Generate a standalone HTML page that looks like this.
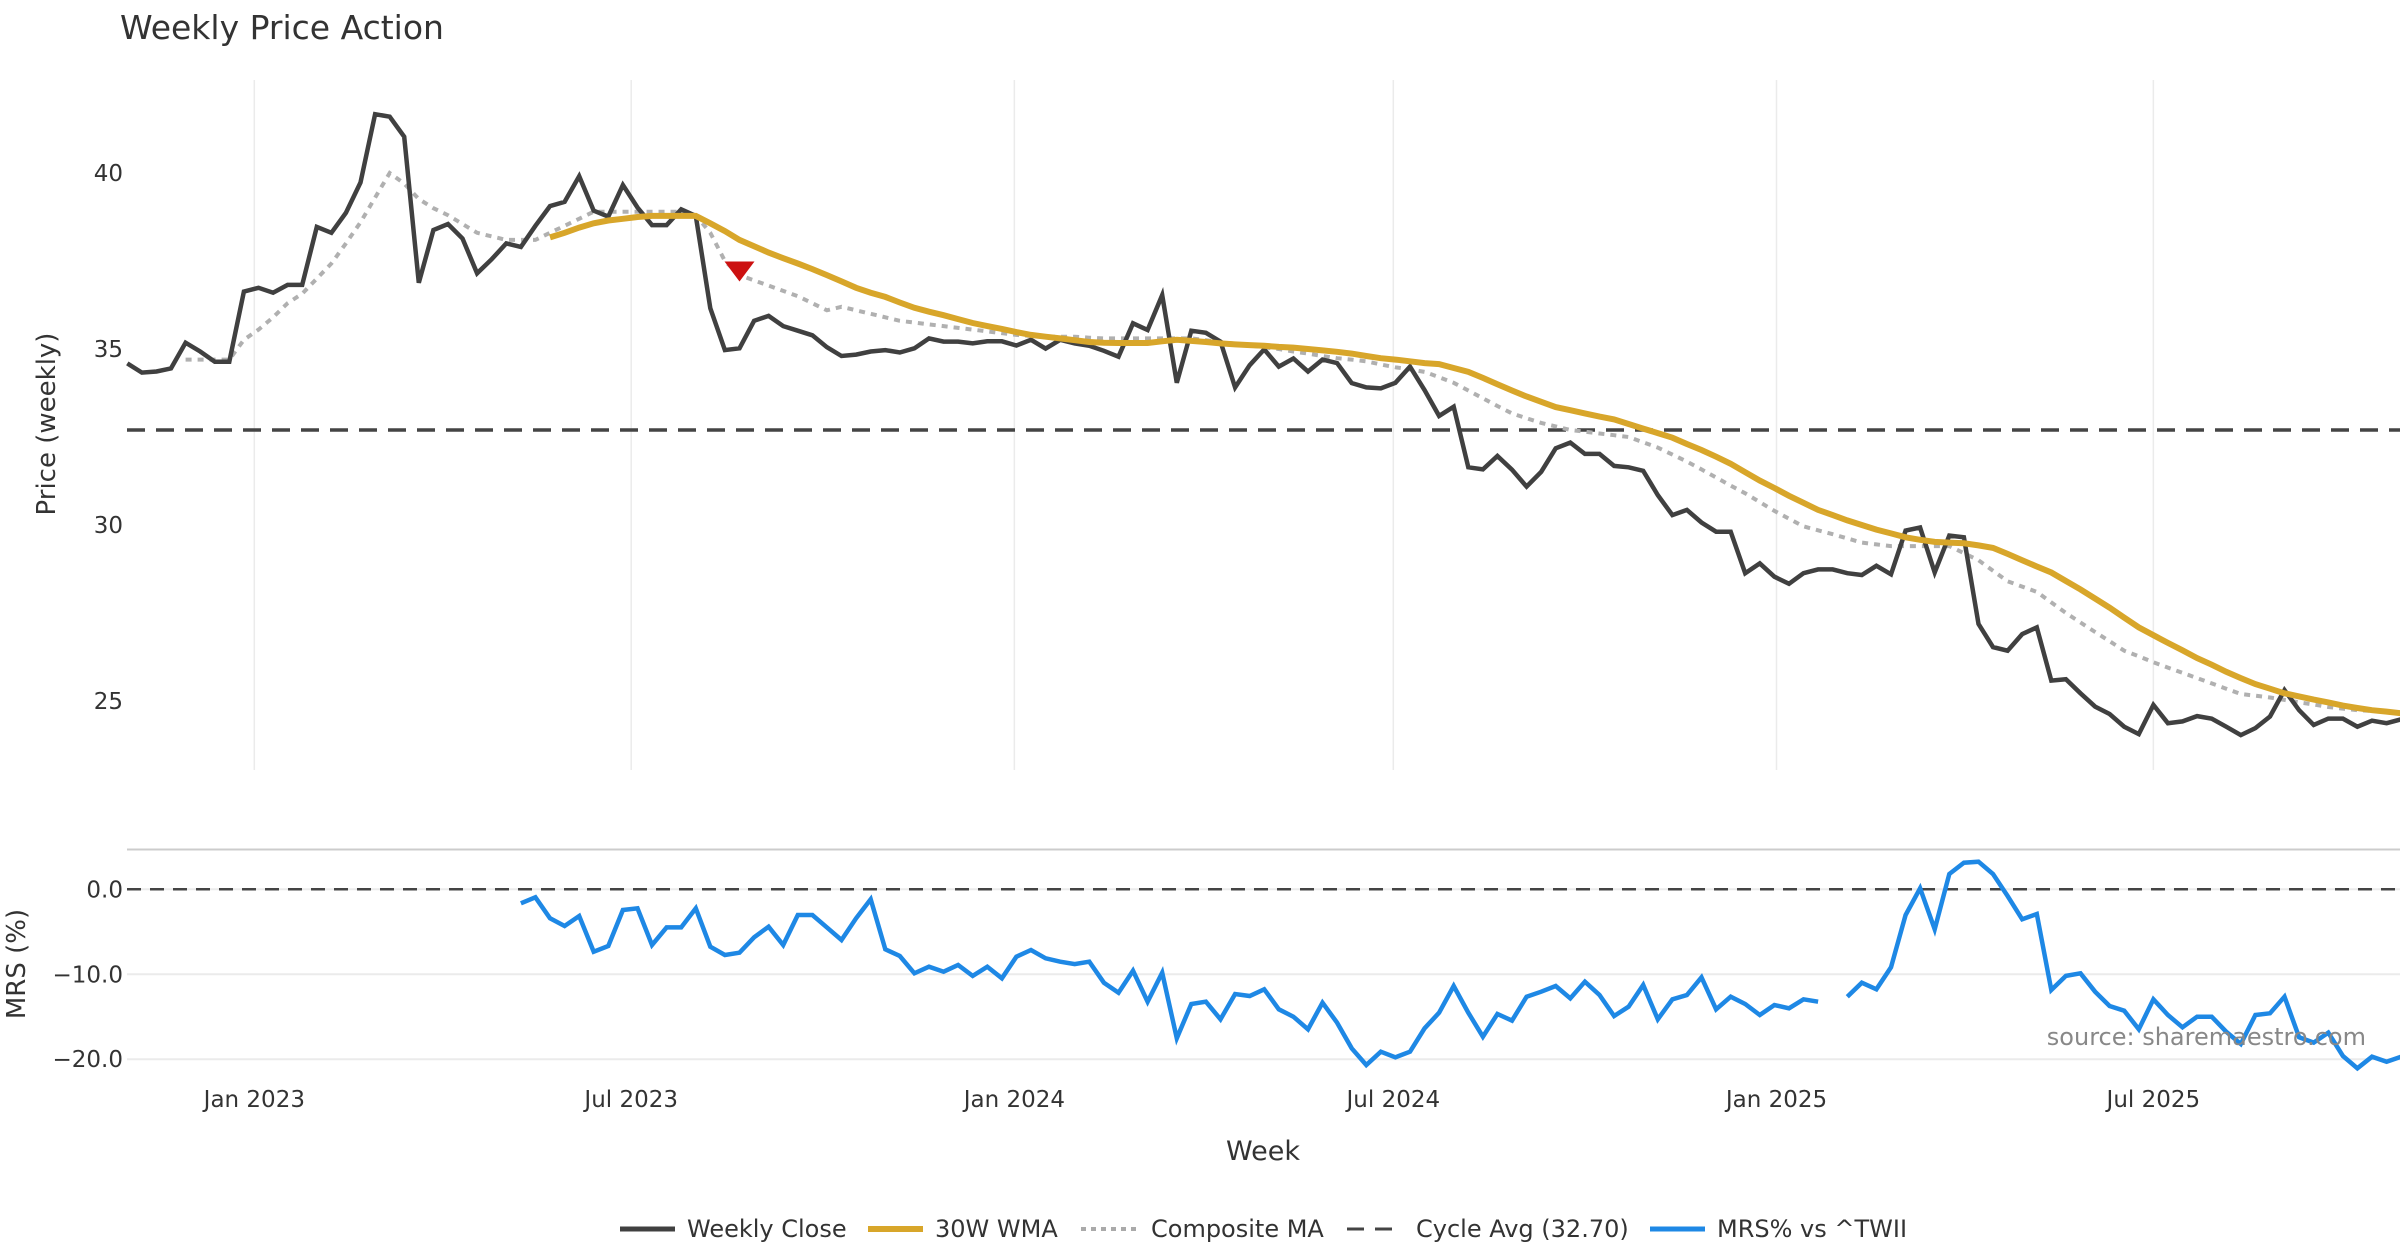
<!DOCTYPE html>
<html><head><meta charset="utf-8"><style>
html,body{margin:0;padding:0;background:#fff;}
svg{display:block;font-family:"DejaVu Sans","Liberation Sans",sans-serif;}
</style></head><body>
<svg id="chart" xmlns="http://www.w3.org/2000/svg" width="2400" height="1260" viewBox="0 0 2400 1260">
<rect x="0" y="0" width="2400" height="1260" fill="#fff"/>
<text x="120" y="39" font-size="33" fill="#333">Weekly Price Action</text>
<g id="grid"></g>
<g id="series"></g>
<g id="axes"></g>
<text transform="translate(55,424) rotate(-90)" text-anchor="middle" font-size="26" fill="#333">Price (weekly)</text>
<text transform="translate(25,964) rotate(-90)" text-anchor="middle" font-size="26" fill="#333">MRS (%)</text>
<text x="1263" y="1160" text-anchor="middle" font-size="27" fill="#333">Week</text>
<text x="2366" y="1045" text-anchor="end" font-size="24" fill="#888">source: sharemaestro.com</text>
<g font-size="24" fill="#333">
  <g><line x1="620" y1="1229" x2="675" y2="1229" stroke="#404040" stroke-width="5"/><text x="687" y="1237">Weekly Close</text></g>
  <g><line x1="868" y1="1229" x2="923" y2="1229" stroke="#d8a62a" stroke-width="6"/><text x="935" y="1237">30W WMA</text></g>
  <g><line x1="1081" y1="1229" x2="1136" y2="1229" stroke="#aaa" stroke-width="4" stroke-dasharray="5,5"/><text x="1151" y="1237">Composite MA</text></g>
  <g><line x1="1347" y1="1229" x2="1402" y2="1229" stroke="#444" stroke-width="3" stroke-dasharray="17,11"/><text x="1416" y="1237">Cycle Avg (32.70)</text></g>
  <g><line x1="1650" y1="1229" x2="1705" y2="1229" stroke="#1e88e5" stroke-width="5"/><text x="1717" y="1237">MRS% vs ^TWII</text></g>
</g>
</svg>
<script>
const startDate = "2022-11-01";
const tickDates = ["2023-01-01","2023-07-01","2024-01-01","2024-07-01","2025-01-01","2025-07-01"];
const tickLabels = ["Jan 2023","Jul 2023","Jan 2024","Jul 2024","Jan 2025","Jul 2025"];
const priceTicks = [25,30,35,40];
const mrsTicks = [0,-10,-20];
const cycleAvg = 32.70;
const signalWeek = 42;
const signalValue = 37.2;
const closeVals = [34.59,34.33,34.36,34.45,35.18,34.93,34.64,34.64,36.63,36.74,36.6,36.82,36.82,38.47,38.3,38.87,39.73,41.67,41.6,41.03,36.88,38.38,38.55,38.14,37.15,37.55,38.0,37.9,38.5,39.06,39.18,39.91,38.93,38.76,39.66,39.02,38.52,38.52,38.97,38.78,
36.16,34.97,35.02,35.8,35.94,35.65,35.52,35.39,35.05,34.8,34.84,34.93,34.97,34.9,35.02,35.3,35.21,35.21,35.16,35.22,35.22,35.1,35.26,35.01,35.26,35.16,35.09,34.95,34.78,35.73,35.54,36.53,34.04,35.52,35.46,35.21,33.91,34.54,34.99,34.5,
34.73,34.36,34.7,34.6,34.03,33.91,33.88,34.04,34.5,33.83,33.1,33.36,31.64,31.58,31.96,31.57,31.09,31.51,32.18,32.34,32.02,32.02,31.68,31.64,31.54,30.85,30.28,30.43,30.07,29.81,29.81,28.63,28.91,28.53,28.33,28.63,28.74,28.74,28.63,28.58,
28.84,28.6,29.84,29.93,28.65,29.7,29.65,27.19,26.53,26.43,26.9,27.09,25.58,25.62,25.22,24.84,24.63,24.27,24.06,24.89,24.37,24.42,24.57,24.5,24.27,24.03,24.23,24.56,25.31,24.74,24.32,24.5,24.5,24.27,24.44,24.37,24.48];
const wmaStart = 29;
const wmaVals = [38.17,38.3,38.45,38.57,38.65,38.7,38.75,38.78,38.78,38.78,38.78,38.57,38.35,38.1,37.92,37.74,37.58,37.43,37.27,37.1,36.92,36.74,36.6,36.48,36.32,36.17,36.06,35.96,35.85,35.74,35.65,35.57,35.48,35.4,35.35,35.3,35.25,35.2,35.18,35.17,35.17,35.17,35.22,35.26,35.23,35.2,35.16,35.13,35.11,35.09,35.06,35.04,35.0,34.96,34.92,34.87,34.8,34.74,34.7,34.65,34.6,34.57,34.46,34.35,34.18,34.0,33.82,33.65,33.5,33.35,33.26,33.17,33.08,33.0,32.87,32.74,32.61,32.48,32.3,32.13,31.94,31.74,31.5,31.26,31.05,30.83,30.63,30.43,30.28,30.13,30.0,29.87,29.76,29.65,29.58,29.52,29.5,29.48,29.42,29.35,29.18,29.0,28.82,28.65,28.41,28.17,27.91,27.65,27.37,27.09,26.87,26.65,26.44,26.22,26.03,25.83,25.65,25.48,25.35,25.22,25.13,25.04,24.96,24.87,24.8,24.74,24.7,24.65];
const compStart = 4;
const compVals = [34.7,34.7,34.7,34.7,35.26,35.55,35.9,36.3,36.57,37.0,37.43,38.0,38.6,39.3,40.0,39.7,39.26,39.0,38.8,38.55,38.3,38.2,38.1,38.1,38.1,38.3,38.5,38.7,38.9,38.9,38.9,38.9,38.9,38.9,38.9,38.8,38.3,37.5,37.1,36.95,36.8,36.65,36.5,36.3,36.1,36.2,36.1,36.0,35.9,35.8,35.75,35.7,35.65,35.6,35.55,35.5,35.45,35.4,35.37,35.35,35.35,35.35,35.32,35.3,35.3,35.3,35.3,35.3,35.3,35.3,35.25,35.2,35.15,35.1,35.05,35.0,34.93,34.87,34.8,34.74,34.7,34.65,34.56,34.48,34.42,34.35,34.2,34.04,33.82,33.6,33.38,33.17,33.03,32.9,32.8,32.7,32.65,32.6,32.55,32.5,32.35,32.2,32.0,31.8,31.58,31.35,31.12,30.9,30.65,30.4,30.18,29.96,29.85,29.74,29.62,29.5,29.45,29.4,29.4,29.4,29.4,29.4,29.2,29.0,28.7,28.4,28.25,28.1,27.8,27.5,27.23,26.96,26.7,26.43,26.27,26.1,25.95,25.8,25.65,25.5,25.35,25.2,25.15,25.1,25.03,24.96,24.9,24.83,24.78,24.74,24.72,24.7,24.68];
const mrsStart = 27;
const mrsVals = [-1.65,-0.94,-3.41,-4.32,-3.14,-7.34,-6.67,-2.44,-2.24,-6.56,-4.48,-4.48,-2.24,-6.76,-7.73,-7.46,-5.65,-4.4,-6.56,-3.03,-3.03,-4.48,-5.97,-3.41,-1.18,-7.06,-7.85,-9.89,-9.11,-9.7,-8.91,-10.2,-9.11,-10.48,-7.93,-7.15,-8.12,-8.52,-8.8,-8.52,-11.0,-12.17,-9.58,-13.23,-9.82,-17.54,-13.5,-13.23,-15.3,-12.33,-12.56,-11.77,-14.13,-15.0,-16.48,-13.35,-15.7,-18.72,-20.68,-19.12,-19.78,-19.12,-16.36,-14.53,
-11.38,-14.53,-17.35,-14.68,-15.46,-12.64,-12.05,-11.38,-12.83,-10.88,-12.44,-14.91,-13.82,-11.27,-15.3,-12.95,-12.44,-10.36,-14.13,-12.64,-13.5,-14.8,-13.62,-14.01,-12.95,-13.23,
null,
-12.64,-11.0,-11.77,-9.18,-3.03,0.12,-4.71,1.8,3.13,3.25,1.8,-0.79,-3.53,-2.91,-11.85,-10.2,-9.89,-12.05,-13.74,-14.29,-16.48,-12.95,-14.8,-16.25,-15.0,-15.0,-16.76,-18.21,-14.8,-14.6,-12.64,-17.42,-18.05,-16.88,-19.62,-21.07,-19.7,-20.29,-19.7];

const NS="http://www.w3.org/2000/svg";
const X0=127.3, WK=14.576;
function xIdx(i){return X0+i*WK;}
function weekOf(d){return (Date.parse(d)-Date.parse(startDate))/(7*86400000);}
function yP(v){return 173+(40-v)*35.2;}
function yM(v){return 889.3-v*8.495;}
function mk(tag,attrs,parent){const e=document.createElementNS(NS,tag);for(const k in attrs)e.setAttribute(k,attrs[k]);parent.appendChild(e);return e;}
const grid=document.getElementById('grid'),series=document.getElementById('series'),axes=document.getElementById('axes');
const PL=127,PR=2400;
tickDates.forEach((d,k)=>{
  const x=xIdx(weekOf(d));
  const gl=mk('line',{x1:x,x2:x,y1:80,y2:770,stroke:'#ebebeb','stroke-width':1.5},grid);
  
  
  const t=mk('text',{x:x,y:1107,'text-anchor':'middle','font-size':23,fill:'#333'},axes);
  t.textContent=tickLabels[k];
  
  
});
priceTicks.forEach(v=>{
  const t=mk('text',{x:123,y:yP(v)+8,'text-anchor':'end','font-size':23,fill:'#333'},axes);
  t.textContent=v;
  
  
});
mrsTicks.forEach(v=>{
  const gl=mk('line',{x1:PL,x2:PR,y1:yM(v),y2:yM(v),stroke:'#ebebeb','stroke-width':2},grid);
  
  
  const t=mk('text',{x:123,y:yM(v)+8,'text-anchor':'end','font-size':23,fill:'#333'},axes);
  t.textContent=v.toFixed(1).replace('-','\u2212');
  
  
});
const sep=mk('line',{x1:PL,x2:PR,y1:849.5,y2:849.5,stroke:'#cccccc','stroke-width':2},grid);


const ca=mk('line',{x1:PL,x2:PR,y1:yP(cycleAvg),y2:yP(cycleAvg),stroke:'#444','stroke-width':3.5,'stroke-dasharray':'18,11'},series);


const zl=mk('line',{x1:PL,x2:PR,y1:yM(0),y2:yM(0),stroke:'#444','stroke-width':2.5,'stroke-dasharray':'14,9'},series);


function pathFrom(vals,start,yf){
  let d='',pen=false;
  vals.forEach((v,i)=>{
    if(v===null){pen=false;return;}
    d+=(pen?'L':'M')+xIdx(start+i).toFixed(1)+','+yf(v).toFixed(1);pen=true;
  });
  return d;
}
const comp=mk('path',{d:pathFrom(compVals,compStart,yP),fill:'none',stroke:'#b0b0b0','stroke-width':4,'stroke-dasharray':'6,6'},series);


const cl=mk('path',{d:pathFrom(closeVals,0,yP),fill:'none',stroke:'#404040','stroke-width':4.5,'stroke-linejoin':'miter'},series);


const wma=mk('path',{d:pathFrom(wmaVals,wmaStart,yP),fill:'none',stroke:'#d8a62a','stroke-width':6},series);


const mrs=mk('path',{d:pathFrom(mrsVals,mrsStart,yM),fill:'none',stroke:'#1e88e5','stroke-width':4.5},series);


const sx=xIdx(signalWeek), sy=yP(signalValue);
const tri=mk('polygon',{points:(sx-15)+','+(sy-10)+' '+(sx+15)+','+(sy-10)+' '+sx+','+(sy+10),fill:'#cc1111'},series);


</script>
</body></html>
